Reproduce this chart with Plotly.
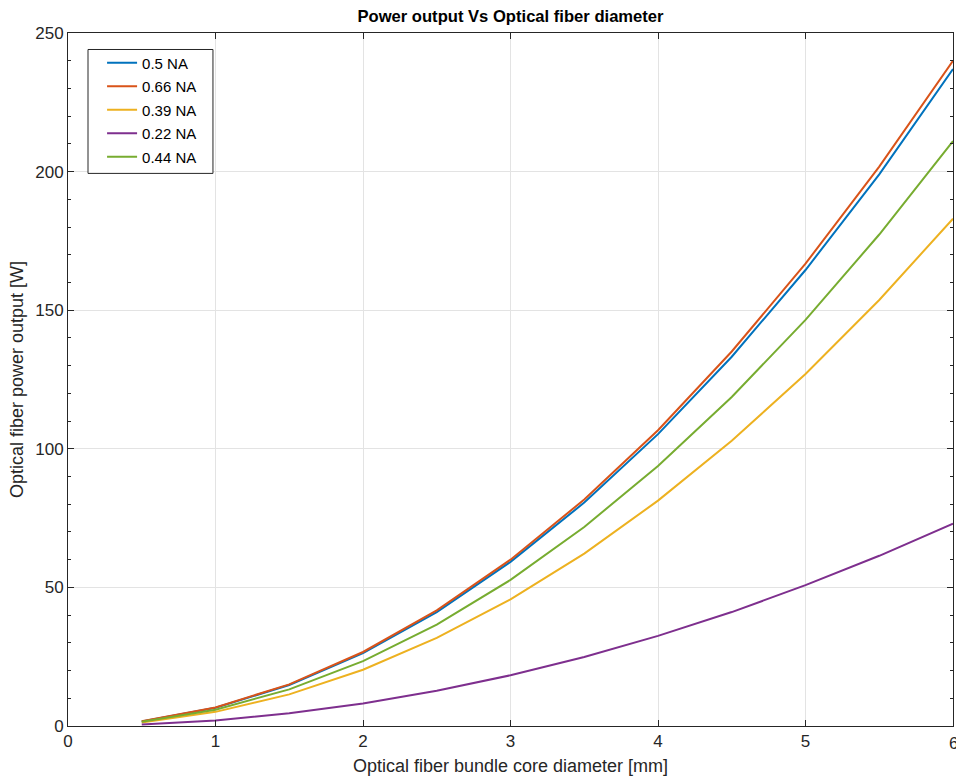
import plotly.graph_objects as go

diameter_mm = [0.5, 1, 1.5, 2, 2.5, 3, 3.5, 4, 4.5, 5, 5.5, 6]

series_names = ["0.5 NA", "0.66 NA", "0.39 NA", "0.22 NA", "0.44 NA"]
power_05 = [1.6, 6.6, 14.8, 26.3, 41.1, 59.2, 80.6, 105.3, 133.2, 164.5, 199.0, 237.0]
power_066 = [1.7, 6.7, 15.0, 26.7, 41.7, 60.0, 81.7, 106.7, 135.1, 166.8, 201.8, 240.0]
power_039 = [1.3, 5.1, 11.4, 20.3, 31.8, 45.7, 62.2, 81.3, 102.9, 127.0, 153.7, 183.0]
power_022 = [0.5, 2.0, 4.6, 8.1, 12.7, 18.3, 24.9, 32.5, 41.1, 50.8, 61.4, 73.0]
power_044 = [1.5, 5.9, 13.2, 23.4, 36.6, 52.7, 71.8, 93.8, 118.7, 146.5, 177.3, 211.0]

x_ticks = [0, 1, 2, 3, 4, 5, 6]
y_ticks = [0, 50, 100, 150, 200, 250]

colors = ["#0072BD", "#D95319", "#EDB120", "#7E2F8E", "#77AC30"]
all_series = [power_05, power_066, power_039, power_022, power_044]

FONT = "Liberation Sans, Arial, Helvetica, sans-serif"
AX = "#262626"

fig = go.Figure()
for name, vals, c in zip(series_names, all_series, colors):
    fig.add_trace(go.Scatter(x=diameter_mm, y=vals, mode="lines", name=name,
                             legendgroup=name,
                             line=dict(color=c, width=2)))

# legend frame (drawn as a shape for MATLAB-like padding)
fig.add_shape(type="rect", xref="paper", yref="paper",
              x0=0.0226, x1=0.1638, y0=0.7974, y1=0.9762,
              line=dict(color=AX, width=1), fillcolor="white", layer="above")

# last x tick label sits on the window edge (Plotly hides it otherwise)
fig.add_annotation(x=x_ticks[-1], xref="x", y=0, yref="paper",
                   text=str(x_ticks[-1]), showarrow=False,
                   xanchor="center", yanchor="top", yshift=-6,
                   font=dict(size=17, color=AX, family=FONT))

fig.update_layout(
    width=956, height=778,
    margin=dict(l=68, r=3, t=32.5, b=52, autoexpand=False),
    paper_bgcolor="white", plot_bgcolor="white",
    font=dict(family=FONT, color=AX),
    title=dict(text="<b>Power output Vs Optical fiber diameter</b>",
               xref="paper", x=0.5, xanchor="center",
               yref="container", y=0.9794, yanchor="middle",
               font=dict(size=16.6, color="black", family=FONT)),
    legend=dict(x=0.0385, y=0.9806, xanchor="left", yanchor="top",
                bgcolor="rgba(0,0,0,0)", borderwidth=0,
                font=dict(size=15, color="black", family=FONT),
                itemwidth=30, tracegroupgap=1),
    showlegend=True,
)

fig.update_xaxes(
    range=[0, 6], tickvals=x_ticks, ticktext=[str(v) for v in x_ticks],
    automargin=False,
    showgrid=True, gridcolor="#e3e3e3", gridwidth=1, zeroline=False,
    showline=True, linecolor=AX, linewidth=1, mirror="allticks",
    ticks="inside", ticklen=6, tickcolor=AX,
    tickfont=dict(size=17, color=AX, family=FONT),
    title=dict(text="Optical fiber bundle core diameter [mm]", standoff=8,
               font=dict(size=18, color=AX, family=FONT)),
)
fig.update_yaxes(
    range=[0, 250], tickvals=y_ticks, ticktext=[str(v) for v in y_ticks],
    automargin=False,
    showgrid=True, gridcolor="#e3e3e3", gridwidth=1, zeroline=False,
    showline=True, linecolor=AX, linewidth=1, mirror="allticks",
    ticks="inside", ticklen=6, tickcolor=AX,
    minor=dict(dtick=10, ticks="inside", ticklen=3, tickcolor=AX, showgrid=False),
    tickfont=dict(size=17, color=AX, family=FONT),
    title=dict(text="Optical fiber power output [W]", standoff=6,
               font=dict(size=18, color=AX, family=FONT)),
)

fig.write_html(
    "out.html",
    config={"displayModeBar": False},
    post_script="document.body.style.margin='0';document.body.style.overflow='hidden';",
)
